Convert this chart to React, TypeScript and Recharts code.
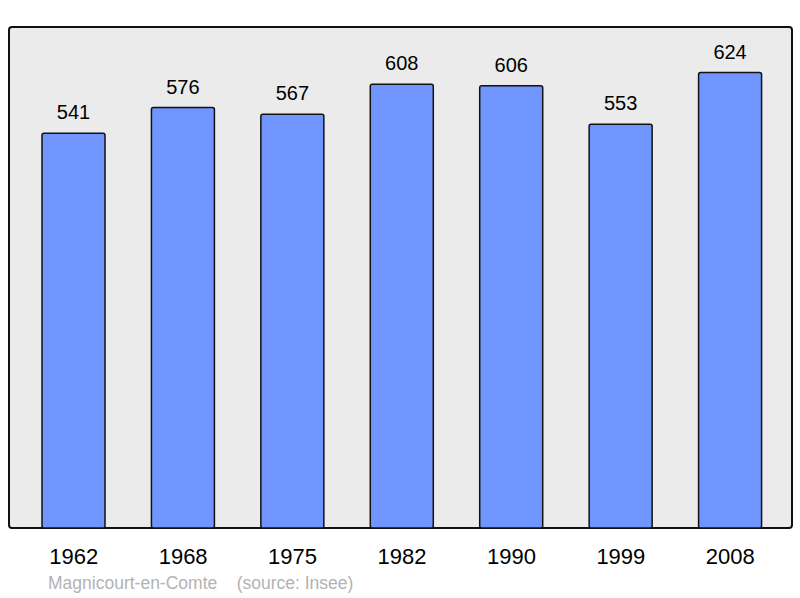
import React from 'react';
import { BarChart, Bar, XAxis, YAxis, LabelList } from 'recharts';

const years = ['1962', '1968', '1975', '1982', '1990', '1999', '2008'];
const population = [541, 576, 567, 608, 606, 553, 624];

const data = years.map((year, i) => ({ year, population: population[i] }));

const font = '"Liberation Sans", Arial, sans-serif';

export default function App() {
  return (
    <div style={{ position: 'absolute', left: 0, top: 0, width: 800, height: 598, background: '#fff', fontFamily: font }}>
      <div
        style={{
          position: 'absolute',
          left: 8,
          top: 26,
          width: 785,
          height: 503,
          boxSizing: 'border-box',
          border: '2px solid #111',
          borderRadius: 4,
          background: '#ebebeb',
        }}
      />
      <div style={{ position: 'absolute', left: 0, top: 0 }}>
        <BarChart
          width={800}
          height={598}
          data={data}
          margin={{ top: 27, right: 8, left: 10, bottom: 40 }}
        >
          <XAxis
            dataKey="year"
            axisLine={false}
            tickLine={false}
            padding={{ left: 9, right: 7 }}
            tickMargin={14}
            tick={{ fontSize: 22, fill: '#000', fontFamily: font }}
          />
          <YAxis hide domain={[0, 686.4]} />
          <Bar
            dataKey="population"
            fill="#7095ff"
            stroke="#111"
            strokeWidth={1.5}
            radius={2}
            barSize={63}
            isAnimationActive={false}
          >
            <LabelList
              dataKey="population"
              position="top"
              offset={14}
              style={{ fontSize: 20, fill: '#000', fontFamily: font }}
            />
          </Bar>
        </BarChart>
      </div>
      <div
        style={{
          position: 'absolute',
          left: 48,
          top: 573,
          fontSize: 17.5,
          color: '#b3b3b3',
          whiteSpace: 'pre',
        }}
      >
        {'Magnicourt-en-Comte    (source: Insee)'}
      </div>
    </div>
  );
}
